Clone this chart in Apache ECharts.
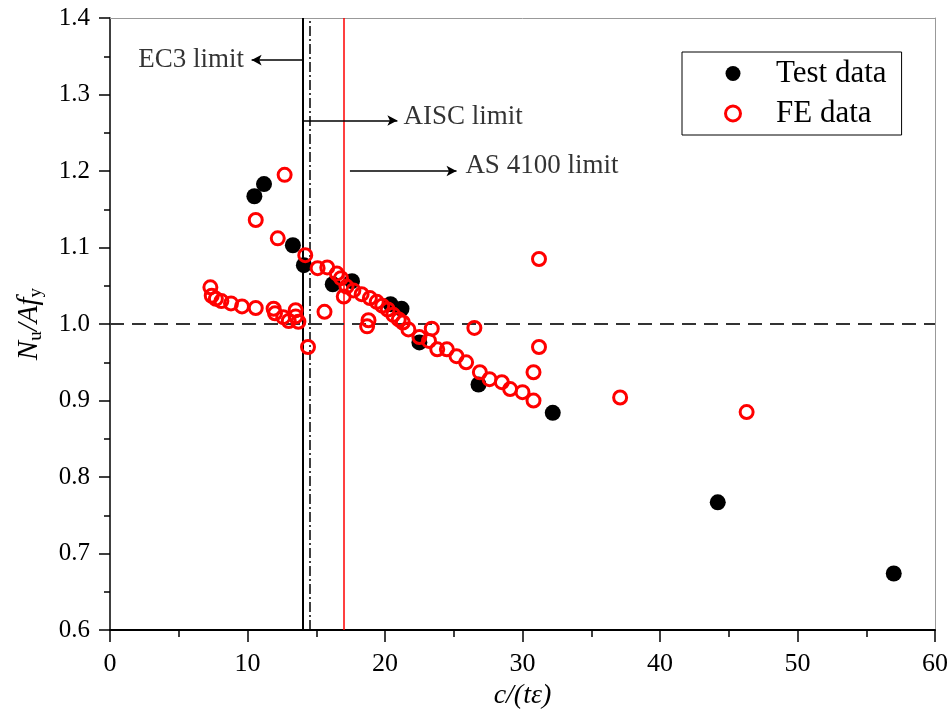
<!DOCTYPE html>
<html><head><meta charset="utf-8">
<script src="https://cdn.jsdelivr.net/npm/echarts@6/dist/echarts.min.js"></script>
<style>html,body{margin:0;padding:0;background:#fff}#c{width:952px;height:715px}</style>
</head><body><div id="c"></div>
<script>
// ---- data ----
const testX = [10.5, 11.2, 13.3, 14.1, 16.2, 17.6, 20.4, 21.2, 22.5, 26.8, 32.2, 44.2, 57.0];
const testY = [1.167, 1.183, 1.103, 1.077, 1.052, 1.056, 1.026, 1.020, 0.976, 0.921, 0.884, 0.767, 0.674];

const feX = [7.3, 7.4, 7.7, 8.1, 8.8, 9.6, 10.6, 11.9, 12.0, 12.6, 13.0, 13.5, 13.5, 13.7, 14.4,
  10.6, 12.7, 12.2, 14.2,
  15.1, 15.8, 16.5, 16.8, 17.2, 17.0, 17.7, 18.3, 18.9, 19.4, 19.8, 20.2, 20.6, 21.0, 21.3,
  21.7, 22.5, 23.2, 23.8, 24.5, 25.2, 25.9, 26.9, 27.6, 28.5, 29.1, 30.0, 30.8,
  15.6, 18.8, 18.7, 23.4, 26.5, 30.8, 31.2, 31.2, 37.1, 46.3];
const feY = [1.048, 1.037, 1.033, 1.030, 1.027, 1.023, 1.021, 1.020, 1.014, 1.009, 1.004, 1.018, 1.010, 1.003, 0.970,
  1.136, 1.195, 1.112, 1.090,
  1.073, 1.074, 1.066, 1.060, 1.049, 1.036, 1.044, 1.039, 1.034, 1.029, 1.024, 1.019, 1.012, 1.006, 1.002,
  0.993, 0.983, 0.978, 0.967, 0.967, 0.958, 0.950, 0.937, 0.928, 0.924, 0.915, 0.911, 0.900,
  1.016, 1.005, 0.997, 0.994, 0.995, 0.937, 0.970, 1.085, 0.904, 0.885];

const seriesNames = ['Test data', 'FE data'];
const limitNames = ['EC3 limit', 'AISC limit', 'AS 4100 limit'];
const limitValues = [14, 14.5, 17];
const referenceY = 1.0;
// annotation arrows (data coordinates): start x, end x, y
const arrowStartX = [14, 14, 17.45];
const arrowEndX = [10.3, 20.9, 25.2];
const arrowY = [1.345, 1.266, 1.2];
// annotation text anchor (data coordinates)
const labelX = [9.9, 21.2, 25.7];
const labelY = [1.345, 1.271, 1.207];

const xTicks = [0, 10, 20, 30, 40, 50, 60];
const yTicks = [0.6, 0.7, 0.8, 0.9, 1.0, 1.1, 1.2, 1.3, 1.4];

// ---- chart ----
const FONT = 'Liberation Serif';
const chart = echarts.init(document.getElementById('c'));

const testData = testX.map((x, i) => [x, testY[i]]);
const feData = feX.map((x, i) => [x, feY[i]]);

const lineStyles = [
  { color: '#000', width: 2, type: 'solid' },
  { color: '#000', width: 1.5, type: [10, 3, 2, 3] },
  { color: '#ff0000', width: 1.5, type: 'solid' }
];

const markData = limitValues.map((v, i) => ({ xAxis: v, lineStyle: lineStyles[i] }));
markData.push({ yAxis: referenceY, lineStyle: { color: '#333', width: 2, type: [14, 8] } });
arrowStartX.forEach((sx, i) => {
  markData.push([
    { coord: [sx, arrowY[i]], symbol: 'none' },
    { coord: [arrowEndX[i], arrowY[i]], symbol: 'arrow', symbolSize: [8, 10], lineStyle: { color: '#000', width: 1.5, type: 'solid' } }
  ]);
});

const annotData = labelX.map((x, i) => ({
  value: [x, labelY[i]],
  label: { position: i === 0 ? 'left' : 'right', formatter: limitNames[i] }
}));

const option = {
  animation: false,
  backgroundColor: '#fff',
  grid: { left: 110, right: 17, top: 18, bottom: 83 },
  legend: {
    orient: 'vertical',
    left: 682, top: 52,
    data: [
      { name: seriesNames[0], icon: 'circle', itemStyle: { color: '#000' } },
      { name: seriesNames[1], icon: 'circle', itemStyle: { color: 'rgba(0,0,0,0)', borderColor: '#ff0000', borderWidth: 3 } }
    ],
    itemWidth: 76, itemHeight: 15, itemGap: 9,
    padding: [6, 15, 6, 42],
    borderColor: '#000', borderWidth: 1,
    textStyle: { fontFamily: FONT, fontSize: 31, color: '#000', lineHeight: 31 },
    selectedMode: false
  },
  xAxis: [{
    type: 'value', min: xTicks[0], max: xTicks[xTicks.length - 1], interval: 10,
    name: '{i|c}{i|/(}{i|tε}{i|)}', nameLocation: 'middle', nameGap: 46,
    nameTextStyle: { rich: { i: { fontFamily: FONT, fontStyle: 'italic', fontSize: 28, color: '#000' } } },
    axisLine: { onZero: false, lineStyle: { color: '#000', width: 2 } },
    axisTick: { inside: false, length: 12, lineStyle: { color: '#000', width: 1.5 } },
    minorTick: { show: true, splitNumber: 2, length: 7, lineStyle: { color: '#000', width: 1.5 } },
    axisLabel: { fontFamily: FONT, fontSize: 26, color: '#000', margin: 21 },
    splitLine: { show: false }
  }, {
    type: 'value', position: 'top', min: xTicks[0], max: xTicks[xTicks.length - 1],
    axisLine: { show: true, onZero: false, lineStyle: { color: '#999', width: 1 } },
    axisTick: { show: false }, axisLabel: { show: false }, splitLine: { show: false }
  }],
  yAxis: [{
    type: 'value', min: yTicks[0], max: yTicks[yTicks.length - 1], interval: 0.1,
    name: '{i|N}{s|u}{i|/Af}{s|y}', nameLocation: 'middle', nameGap: 64, nameRotate: 90,
    nameTextStyle: { rich: {
      i: { fontFamily: FONT, fontStyle: 'italic', fontSize: 29, color: '#000' },
      s: { fontFamily: FONT, fontSize: 19, color: '#000', padding: [14, 0, 0, 0] }
    } },
    axisLine: { onZero: false, lineStyle: { color: '#000', width: 1.5 } },
    axisTick: { inside: false, length: 11, lineStyle: { color: '#000', width: 1.5 } },
    minorTick: { show: true, splitNumber: 2, length: 6, lineStyle: { color: '#000', width: 1.5 } },
    axisLabel: { fontFamily: FONT, fontSize: 25, color: '#000', margin: 20, formatter: v => v.toFixed(1) },
    splitLine: { show: false }
  }, {
    type: 'value', position: 'right', min: yTicks[0], max: yTicks[yTicks.length - 1],
    axisLine: { show: true, onZero: false, lineStyle: { color: '#999', width: 1 } },
    axisTick: { show: false }, axisLabel: { show: false }, splitLine: { show: false }
  }],
  series: [
    {
      name: 'limits', type: 'scatter', data: [], silent: true,
      markLine: { silent: true, symbol: ['none', 'none'], label: { show: false }, data: markData, z: 2 }
    },
    {
      name: seriesNames[0], type: 'scatter', data: testData, symbol: 'circle', symbolSize: 16,
      itemStyle: { color: '#000', opacity: 1 }, z: 3
    },
    {
      name: seriesNames[1], type: 'scatter', data: feData, symbol: 'circle', symbolSize: 13,
      itemStyle: { color: 'rgba(0,0,0,0)', borderColor: '#ff0000', borderWidth: 3, opacity: 1 }, z: 4
    },
    {
      name: 'annotations', type: 'scatter', data: annotData, symbolSize: 0, silent: true,
      label: { show: true, distance: 2, fontFamily: FONT, fontSize: 27, color: '#000' }, z: 5
    }
  ]
};
chart.setOption(option);
</script>
</body></html>
